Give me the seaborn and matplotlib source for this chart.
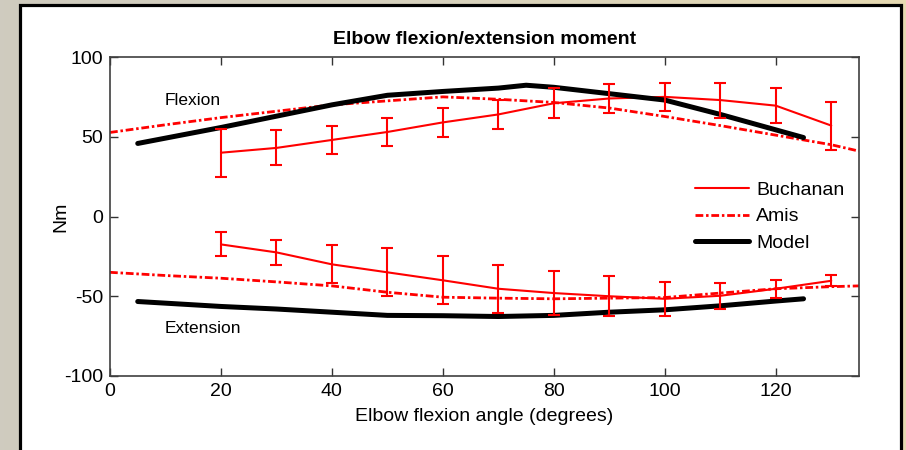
"""
Elbow flexion/extension moment: Buchanan data vs Amis fit vs model.
"""
import matplotlib
matplotlib.use("Agg")
import matplotlib.pyplot as plt
import matplotlib.patches as mpatches
import numpy as np
import seaborn as sns

# ── Data ─────────────────────────────────────────────────────────────────────
buch_angle = [20, 30, 40, 50, 60, 70, 80, 90, 100, 110, 120, 130]
buch_flex = [40, 43, 48, 53, 59, 64, 71, 74, 75, 73, 69.5, 57]
buch_flex_err = [15, 11, 9, 9, 9, 9, 9.5, 9, 9, 11, 11, 15]
buch_ext = [-17.5, -22.5, -30, -35, -40, -45.3, -48, -50, -51.6, -49.7, -45.3, -40.3]
buch_ext_err = [7.5, 8, 12, 15, 15, 15, 14, 12.5, 10.5, 8, 5.5, 3.5]

amis_angle = [0, 10, 20, 30, 40, 50, 60, 70, 80, 90, 100, 110, 120, 130, 135]
amis_flex = [52.7, 57.5, 62, 66, 70, 72.5, 75, 73.5, 71.5, 68, 62.7, 57, 51, 45, 41]
amis_ext = [-35, -37, -38.7, -41, -43.5, -47.5, -50.6, -51.2, -51.6, -51.2,
            -50.8, -48, -45.3, -44, -43.5]

model_flex_angle = [5, 20, 40, 50, 60, 70, 75, 80, 90, 100, 110, 125]
model_flex = [45.8, 55.8, 70, 76, 78.4, 80.5, 82.3, 81, 77, 73, 64, 49.5]
model_ext_angle = [5, 20, 30, 40, 50, 60, 70, 80, 90, 100, 110, 120, 125]
model_ext = [-53.3, -56.4, -58, -60, -62, -62.2, -62.7, -62, -60, -58.5, -56, -53, -51.6]

x_ticks = [0, 20, 40, 60, 80, 100, 120]
y_ticks = [-100, -50, 0, 50, 100]

RED = "#ff0000"
AMIS_DASH = (0, (2.8, 1.0, 0.9, 1.0))

sns.set_theme(style="ticks")
plt.rcParams["font.family"] = ["Liberation Sans", "DejaVu Sans"]
plt.rcParams["axes.unicode_minus"] = False
plt.rcParams["text.color"] = "black"
plt.rcParams["axes.labelcolor"] = "black"

fig = plt.figure(figsize=(9.06, 4.5), dpi=100)

# beige backdrop + white framed panel
bg = fig.add_axes([0, 0, 1, 1], zorder=-10)
grad = np.linspace(0, 1, 256)[None, :]
bg.imshow(grad, aspect="auto", extent=[0, 1, 0, 1],
          cmap=matplotlib.colors.LinearSegmentedColormap.from_list(
              "bg", ["#cfcbbf", "#d8d2bd", "#e6dab2"]))
bg.add_patch(mpatches.Rectangle((19.5 / 906, -0.05), (900.5 - 19.5) / 906,
                                1.05 - 5.5 / 450, facecolor="white",
                                edgecolor="black", lw=2.3))
bg.set_xlim(0, 1)
bg.set_ylim(0, 1)
bg.axis("off")

ax = fig.add_axes([110 / 906, 74 / 450, 749 / 906, 319 / 450])
ax.set_facecolor("white")

common = dict(ax=ax, estimator=None, sort=False, legend=False)

# Buchanan (thin red with error bars)
ax.errorbar(buch_angle, buch_flex, yerr=buch_flex_err, fmt="none", ecolor=RED,
            elinewidth=1.5, capsize=4.5, capthick=1.5, zorder=3)
ax.errorbar(buch_angle, buch_ext, yerr=buch_ext_err, fmt="none", ecolor=RED,
            elinewidth=1.5, capsize=4.5, capthick=1.5, zorder=3)
sns.lineplot(x=buch_angle, y=buch_flex, color=RED, lw=1.5, label="Buchanan", **common)
sns.lineplot(x=buch_angle, y=buch_ext, color=RED, lw=1.5, **common)

# Amis (red dash-dot)
sns.lineplot(x=amis_angle, y=amis_flex, color=RED, lw=2, linestyle=AMIS_DASH,
             label="Amis", **common)
sns.lineplot(x=amis_angle, y=amis_ext, color=RED, lw=2, linestyle=AMIS_DASH, **common)

# Model (thick black)
sns.lineplot(x=model_flex_angle, y=model_flex, color="black", lw=3.6,
             label="Model", **common)
sns.lineplot(x=model_ext_angle, y=model_ext, color="black", lw=3.6, **common)

ax.text(9.9, 73, "Flexion", fontsize=12.5, ha="left", va="center")
ax.text(9.9, -70, "Extension", fontsize=12.5, ha="left", va="center")

ax.set_xlim(0, 135)
ax.set_ylim(-100, 100)
ax.set_xticks(x_ticks)
ax.set_yticks(y_ticks)
ax.tick_params(direction="in", length=6, width=1, top=True, right=True,
               labelsize=14, colors="#333333", labelcolor="black", pad=5)
for s in ax.spines.values():
    s.set_visible(True)
    s.set_color("#404040")
    s.set_linewidth(1.2)

ax.set_xlabel("Elbow flexion angle (degrees)", fontsize=14, labelpad=6)
ax.set_ylabel("Nm", fontsize=14, labelpad=-4)
ax.set_title("Elbow flexion/extension moment", fontsize=14, fontweight="bold",
             pad=9, color="black")

handles, labels = ax.get_legend_handles_labels()
ax.legend(handles, labels, loc="center left", bbox_to_anchor=(0.781, 0.50),
          frameon=False, fontsize=14, handlelength=2.8, handletextpad=0.35,
          labelspacing=0.45, borderpad=0, borderaxespad=0)

fig.savefig("out.png", dpi=100)
